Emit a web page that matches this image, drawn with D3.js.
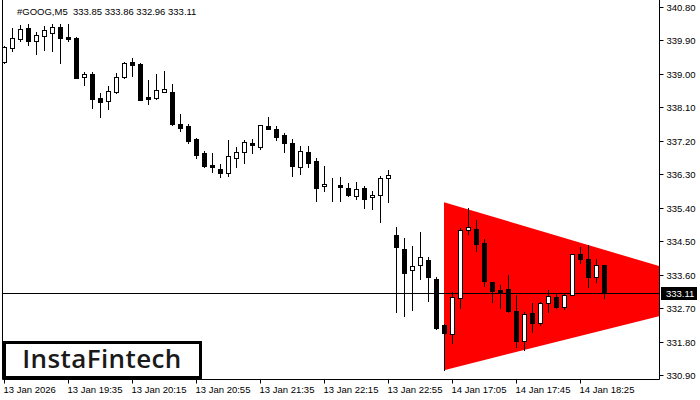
<!DOCTYPE html>
<html>
<head>
<meta charset="utf-8">
<script src="https://cdn.jsdelivr.net/npm/d3@7"></script>
<style>
  html, body { margin: 0; padding: 0; background: #fff; }
  svg { display: block; }
  .ax text { font-family: "Liberation Sans", Arial, sans-serif; font-size: 9.5px; fill: #000; }
</style>
</head>
<body>
<svg id="chart" width="700" height="400"></svg>
<script>
// ---- data ----
const symbolTitle = "#GOOG,M5  333.85 333.86 332.96 333.11";
const opens  = [339.33,339.69,339.93,340.23,339.89,340.03,340.11,340.26,339.99,339.97,
                338.91,339.00,338.36,338.27,338.52,338.92,339.31,339.27,338.37,338.35,
                338.52,338.51,337.64,337.60,337.25,336.87,336.55,336.43,336.33,336.73,
                336.89,337.14,337.04,337.60,337.52,337.36,337.13,336.50,336.89,336.66,
                335.98,336.00,336.01,335.93,335.72,335.92,335.68,335.73,336.19,334.67,
                334.29,333.72,333.85,333.99,333.48,332.24,331.99,332.96,334.81,334.83,
                334.44,333.39,333.19,333.21,332.62,331.82,332.56,332.29,332.84,332.99,
                332.74,333.04,334.15,334.01,333.53,333.85];
const highs  = [339.75,340.23,340.32,340.34,340.12,340.29,340.33,340.33,340.33,339.99,
                339.06,339.06,338.48,338.67,339.02,339.33,339.43,339.29,338.84,339.00,
                339.08,338.73,337.92,337.65,337.27,336.93,336.86,336.58,337.22,337.03,
                337.22,337.25,337.63,337.85,337.60,337.40,337.24,337.06,337.06,336.75,
                336.52,336.19,336.22,336.06,336.08,335.98,335.85,336.25,336.41,334.89,
                334.58,334.37,334.75,334.08,333.54,332.26,333.14,334.85,335.38,335.07,
                334.56,333.39,333.32,333.59,333.05,332.60,332.83,332.87,333.19,333.10,
                333.08,334.15,334.34,334.40,334.01,333.86];
const lows   = [339.30,339.62,339.89,339.78,339.54,339.64,339.62,339.30,339.89,338.88,
                338.70,338.09,337.83,338.05,338.48,338.89,338.95,338.29,338.19,338.33,
                338.52,337.62,337.47,337.15,336.75,336.49,336.37,336.23,336.26,336.49,
                336.61,336.88,336.99,337.51,337.22,336.91,336.26,336.31,336.50,335.59,
                335.86,335.59,335.59,335.72,335.63,335.40,335.37,335.02,335.56,332.60,
                332.50,332.65,333.47,332.89,332.15,331.03,331.77,332.69,334.69,334.24,
                333.30,332.87,332.69,332.59,331.66,331.57,332.06,332.24,332.60,332.71,
                332.68,333.04,333.90,333.27,333.41,332.96];
const closes = [339.73,339.96,340.20,339.89,340.05,340.18,340.26,339.97,339.94,338.90,
                339.00,338.32,338.25,338.54,338.91,339.30,339.25,338.30,338.33,338.57,
                338.59,337.65,337.55,337.20,336.83,336.53,336.50,336.33,336.79,336.89,
                337.16,337.08,337.63,337.51,337.31,337.15,336.53,336.92,336.60,335.94,
                336.04,336.00,335.97,335.75,335.90,335.64,335.75,336.19,336.28,334.35,
                333.65,333.83,334.07,333.53,332.16,332.02,333.01,334.80,334.88,334.43,
                333.44,333.17,333.14,332.63,331.82,332.54,332.29,332.83,333.02,332.74,
                333.05,334.15,334.01,333.54,333.86,333.11];
const xTickIndex  = [0, 8, 16, 24, 32, 40, 48, 56, 64, 72];
const xTickLabels = ["13 Jan 2026","13 Jan 19:35","13 Jan 20:15","13 Jan 20:55","13 Jan 21:35",
                     "13 Jan 22:15","13 Jan 22:55","14 Jan 17:05","14 Jan 17:45","14 Jan 18:25"];
const yTickValues = [340.80,339.90,339.00,338.10,337.20,336.30,335.40,334.50,333.60,332.70,331.80,330.90];
const currentPrice = 333.11;
// triangle pattern: [bar index, price]
const triangleIdx    = [55, 93.3, 55];
const trianglePrice  = [335.55, 333.10, 331.03];
const logoText = "InstaFintech";

// ---- layout ----
const svg = d3.select("#chart");
const plotL = 2, plotR = 659, plotT = 0, plotB = 379;
const x = d3.scaleLinear().domain([0, 81.875]).range([4, 659]);
const y = d3.scaleLinear().domain([330.90, 340.80]).range([375, 7]);

svg.append("defs").append("clipPath").attr("id", "plotclip")
  .append("rect").attr("x", plotL).attr("y", plotT).attr("width", plotR - plotL).attr("height", plotB - plotT);

const plot = svg.append("g").attr("clip-path", "url(#plotclip)");

// triangle
const triPts = triangleIdx.map((d, i) => [x(d), y(trianglePrice[i])]);
plot.append("path")
  .attr("d", d3.line()(triPts) + "Z")
  .attr("fill", "#ff0000");

// current price line
const yc = Math.round(y(currentPrice)) + 0.5;
plot.append("line").attr("x1", plotL).attr("x2", plotR).attr("y1", yc).attr("y2", yc)
  .attr("stroke", "#000").attr("stroke-width", 1);

// candles
const candles = opens.map((o, i) => ({ i, o, h: highs[i], l: lows[i], c: closes[i] }));
const cg = plot.append("g");
candles.forEach(d => {
  const cx = Math.round(x(d.i));
  cg.append("line")
    .attr("x1", cx + 0.5).attr("x2", cx + 0.5)
    .attr("y1", Math.round(y(d.h))).attr("y2", Math.round(y(d.l)) + 1)
    .attr("stroke", "#000").attr("stroke-width", 1);
  const top = Math.round(y(Math.max(d.o, d.c)));
  const bot = Math.round(y(Math.min(d.o, d.c)));
  cg.append("rect")
    .attr("x", cx - 1.5).attr("width", 4)
    .attr("y", top + 0.5).attr("height", Math.max(0, bot - top))
    .attr("fill", d.c >= d.o ? "#fff" : "#000")
    .attr("stroke", "#000").attr("stroke-width", 1);
});

// frame
svg.append("path")
  .attr("d", `M${plotL + 0.5},${plotT} V${plotB + 0.5} H${plotR + 0.5} V${plotT}`)
  .attr("fill", "none").attr("stroke", "#000").attr("stroke-width", 1);

// right axis
const ya = svg.append("g").attr("class", "ax").attr("transform", `translate(${plotR + 0.5},0)`)
  .call(d3.axisRight(y).tickValues(yTickValues).tickSize(4).tickPadding(3).tickFormat(d3.format(".2f")));
ya.select(".domain").remove();
ya.selectAll(".tick line").attr("stroke", "#000");
ya.selectAll(".tick").attr("transform", d => `translate(0,${Math.round(y(d)) + 0.5})`);

// bottom axis
const xa = svg.append("g").attr("class", "ax").attr("transform", `translate(0,${plotB + 0.5})`)
  .call(d3.axisBottom(x).tickValues(xTickIndex).tickSize(4).tickPadding(3)
    .tickFormat((d, i) => xTickLabels[i]));
xa.select(".domain").remove();
xa.selectAll(".tick line").attr("stroke", "#000");
xa.selectAll(".tick").attr("transform", d => `translate(${Math.round(x(d)) + 0.5},0)`);
xa.selectAll(".tick text").attr("text-anchor", "start").attr("x", -1);

// current price label
const pg = svg.append("g");
pg.append("rect").attr("x", 661).attr("y", yc - 6.5).attr("width", 36).attr("height", 13).attr("fill", "#000");
pg.append("text").attr("x", 666).attr("y", yc).attr("dy", "0.34em")
  .attr("font-family", "Liberation Sans, Arial, sans-serif").attr("font-size", "9.5px")
  .attr("fill", "#fff").text(d3.format(".2f")(currentPrice));

// title
svg.append("text").attr("x", 17).attr("y", 15)
  .attr("font-family", "Liberation Sans, Arial, sans-serif").attr("font-size", "9.5px")
  .attr("fill", "#000").attr("xml:space", "preserve").style("white-space", "pre").text(symbolTitle);

// logo
svg.append("rect").attr("x", 4.5).attr("y", 342.5).attr("width", 196).attr("height", 35)
  .attr("fill", "#fff").attr("stroke", "#000").attr("stroke-width", 3);
svg.append("text").attr("x", 102).attr("y", 368).attr("text-anchor", "middle")
  .attr("font-family", "Open Sans, Lato, sans-serif").attr("font-size", "26px").attr("font-weight", 600)
  .attr("letter-spacing", "0.4px")
  .attr("fill", "#1a1a1a").text(logoText);
</script>
</body>
</html>
